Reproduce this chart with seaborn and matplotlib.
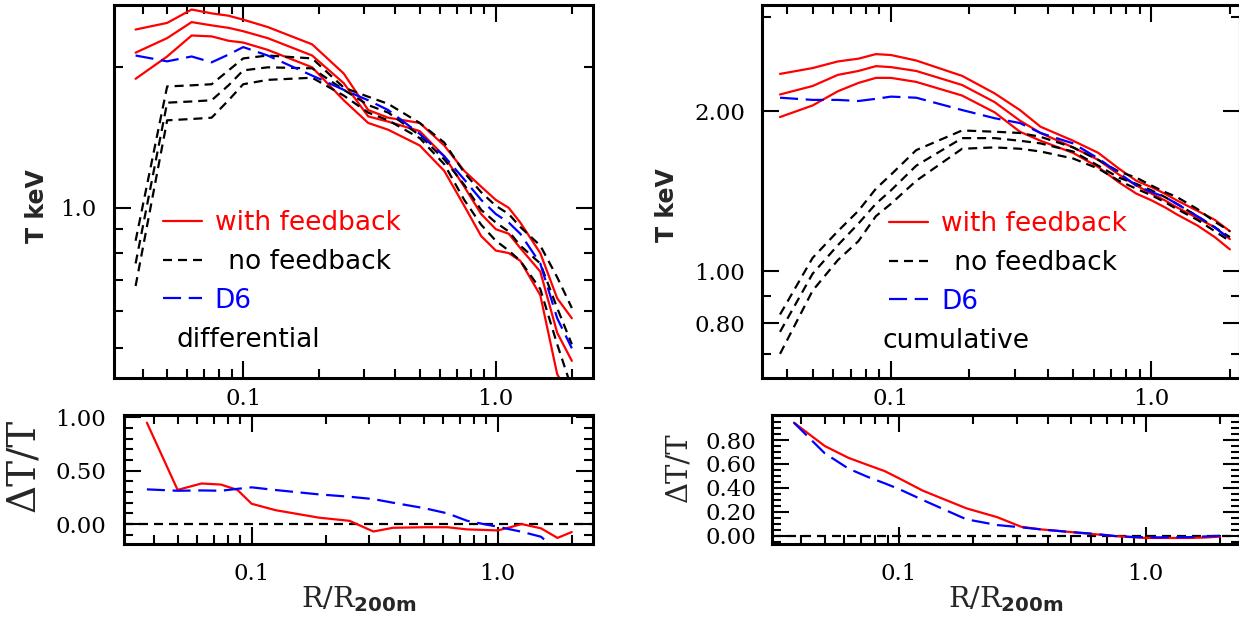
import matplotlib
matplotlib.use("Agg")
import numpy as np
import pandas as pd
import seaborn as sns
import matplotlib.pyplot as plt
from matplotlib.lines import Line2D

# ---------------- data ----------------
r_grid = [0.0375, 0.05, 0.0625, 0.075, 0.0875, 0.1, 0.125, 0.1875, 0.25, 0.3125,
          0.375, 0.5, 0.625, 0.75, 0.875, 1.0, 1.125, 1.25, 1.5, 1.75, 2.0]

# differential temperature profiles (keV)
diff_fb_hi = [2.41, 2.49, 2.66, 2.61, 2.58, 2.53, 2.44, 2.24, 1.94, 1.62, 1.56, 1.52, 1.36, 1.20, 1.11, 1.04, 1.00, 0.93, 0.80, 0.64, 0.58]
diff_fb_mid = [2.15, 2.31, 2.50, 2.46, 2.43, 2.39, 2.31, 2.12, 1.85, 1.57, 1.53, 1.46, 1.29, 1.11, 0.97, 0.90, 0.88, 0.82, 0.73, 0.54, 0.47]
diff_fb_lo = [1.89, 2.11, 2.34, 2.33, 2.28, 2.26, 2.18, 2.00, 1.70, 1.52, 1.47, 1.36, 1.20, 1.01, 0.87, 0.81, 0.80, 0.77, 0.65, 0.44, 0.39]
diff_d6 = [2.12, 2.06, 2.11, 2.05, 2.13, 2.21, 2.12, 1.92, 1.79, 1.70, 1.62, 1.44, 1.29, 1.15, 1.04, 0.97, 0.93, 0.88, 0.76, 0.58, 0.50]
diff_nofb_hi = [0.85, 1.82, 1.83, 1.84, 1.97, 2.09, 2.12, 2.09, 1.81, 1.73, 1.67, 1.52, 1.38, 1.19, 1.08, 1.01, 0.97, 0.91, 0.83, 0.71, 0.61]
diff_nofb_mid = [0.76, 1.68, 1.69, 1.70, 1.83, 1.97, 2.00, 1.99, 1.79, 1.66, 1.60, 1.43, 1.27, 1.12, 0.99, 0.93, 0.89, 0.83, 0.76, 0.61, 0.51]
diff_nofb_lo = [0.68, 1.54, 1.55, 1.56, 1.70, 1.84, 1.88, 1.90, 1.74, 1.60, 1.54, 1.41, 1.24, 1.04, 0.92, 0.85, 0.81, 0.77, 0.67, 0.51, 0.41]

# cumulative temperature profiles (keV)
cum_fb_hi = [2.35, 2.41, 2.48, 2.51, 2.56, 2.55, 2.49, 2.33, 2.16, 2.01, 1.87, 1.76, 1.67, 1.56, 1.48, 1.44, 1.40, 1.36, 1.30, 1.25, 1.19]
cum_fb_mid = [2.15, 2.23, 2.34, 2.38, 2.43, 2.42, 2.38, 2.24, 2.08, 1.92, 1.82, 1.71, 1.62, 1.52, 1.45, 1.40, 1.36, 1.32, 1.26, 1.21, 1.15]
cum_fb_lo = [1.95, 2.05, 2.18, 2.26, 2.31, 2.31, 2.27, 2.14, 1.99, 1.83, 1.76, 1.67, 1.57, 1.47, 1.40, 1.36, 1.32, 1.28, 1.22, 1.16, 1.10]
cum_d6 = [2.12, 2.10, 2.10, 2.09, 2.11, 2.13, 2.12, 2.01, 1.94, 1.90, 1.82, 1.74, 1.63, 1.53, 1.45, 1.41, 1.38, 1.34, 1.27, 1.21, 1.15]
cum_nofb_hi = [0.83, 1.06, 1.19, 1.30, 1.43, 1.52, 1.69, 1.84, 1.83, 1.82, 1.79, 1.71, 1.62, 1.54, 1.50, 1.45, 1.41, 1.38, 1.31, 1.24, 1.19]
cum_nofb_mid = [0.77, 0.99, 1.12, 1.23, 1.34, 1.42, 1.58, 1.78, 1.78, 1.76, 1.74, 1.68, 1.58, 1.50, 1.46, 1.42, 1.38, 1.34, 1.27, 1.21, 1.16]
cum_nofb_lo = [0.70, 0.92, 1.05, 1.14, 1.27, 1.34, 1.48, 1.70, 1.71, 1.70, 1.68, 1.63, 1.56, 1.48, 1.43, 1.39, 1.35, 1.31, 1.25, 1.19, 1.14]

# relative differences dT/T
dT_diff_fb = [0.95, 0.32, 0.38, 0.37, 0.32, 0.19, 0.13, 0.06, 0.03, -0.07, -0.035, -0.03, -0.03, -0.05, -0.055, -0.06, -0.03, 0.0, -0.04, -0.13, -0.075]
dT_diff_d6 = [0.325, 0.312, 0.315, 0.312, 0.33, 0.344, 0.319, 0.278, 0.256, 0.234, 0.20, 0.15, 0.10, 0.031, 0.0, -0.025, -0.05, -0.072, -0.119, -0.25, -0.35]
dT_cum_fb = [0.945, 0.75, 0.65, 0.59, 0.54, 0.48, 0.376, 0.229, 0.155, 0.075, 0.053, 0.03, 0.012, -0.003, -0.012, -0.019, -0.019, -0.019, -0.019, -0.015, -0.008]
dT_cum_d6 = [0.945, 0.689, 0.56, 0.49, 0.438, 0.39, 0.298, 0.137, 0.089, 0.07, 0.053, 0.03, 0.015, -0.003, -0.01, -0.014, -0.014, -0.013, -0.012, -0.006, 0.0]

x_major = [0.1, 1.0]
x_major_labels = ["0.1", "1.0"]
x_minor = [0.04, 0.05, 0.06, 0.07, 0.08, 0.09, 0.2, 0.3, 0.4, 0.5, 0.6, 0.7, 0.8, 0.9, 2.0]

legend_labels = ["with feedback", "\u2002no feedback", "D6"]

# ---------------- style ----------------
sns.set_theme(style="ticks")
plt.rcParams["font.family"] = ["DejaVu Serif"]
plt.rcParams["mathtext.fontset"] = "dejavusans"
plt.rcParams["lines.scale_dashes"] = False

RED, BLACK, BLUE = "#ff0000", "#000000", "#0000ff"
LW = 1.6
DASH_BLACK = (0, (6.5, 4.3))
DASH_BLUE = (0, (13, 5.5))

W, H = 1239, 617
fig = plt.figure(figsize=(W / 100, H / 100), dpi=100)
fig.patch.set_facecolor("white")


def px_axes(l, r, t, b):
    return fig.add_axes([l / W, 1 - b / H, (r - l) / W, (b - t) / H])


ax_tl = px_axes(114, 593.3, 5, 377.5)
ax_bl = px_axes(124, 593.3, 415, 544)
ax_tr = px_axes(761.7, 1240, 5, 377.5)
ax_br = px_axes(771.7, 1240, 415, 544)


def curve(ax, y, color, ls):
    df = pd.DataFrame({"r": r_grid, "v": y})
    sns.lineplot(data=df, x="r", y="v", ax=ax, color=color, linestyle=ls,
                 linewidth=LW, estimator=None, sort=False, legend=False)


def style_axes(ax, xlim, ylim, xpad):
    ax.set_xscale("log")
    ax.set_xlim(*xlim)
    ax.set_ylim(*ylim)
    ax.set_xticks(x_major, x_major_labels)
    ax.set_xticks(x_minor, minor=True)
    ax.xaxis.set_minor_formatter(plt.NullFormatter())
    for s in ax.spines.values():
        s.set_linewidth(2.2)
        s.set_color("black")
    ax.tick_params(which="both", direction="in", top=True, right=True,
                   color="black", width=1.5, labelsize=16.5, labelcolor="black")
    ax.tick_params(which="major", length=12.5)
    ax.tick_params(which="minor", length=6.5)
    ax.tick_params(axis="x", which="major", pad=xpad)
    ax.set_xlabel("")
    ax.set_ylabel("")
    ax.set_facecolor("white")
    ax.grid(False)


# ---------- top-left: differential ----------
for y in (diff_fb_hi, diff_fb_mid, diff_fb_lo):
    curve(ax_tl, y, RED, "-")
for y in (diff_nofb_hi, diff_nofb_mid, diff_nofb_lo):
    curve(ax_tl, y, BLACK, DASH_BLACK)
curve(ax_tl, diff_d6, BLUE, DASH_BLUE)
ax_tl.set_yscale("log")
style_axes(ax_tl, (0.0308, 2.432), (0.433, 2.72), 7.5)
ax_tl.set_yticks([1.0], ["1.0"])
ax_tl.set_yticks([0.5, 0.6, 0.7, 0.8, 0.9, 2.0], minor=True)
ax_tl.yaxis.set_minor_formatter(plt.NullFormatter())
ax_tl.tick_params(axis="y", which="major", pad=13)

# ---------- top-right: cumulative ----------
for y in (cum_fb_hi, cum_fb_mid, cum_fb_lo):
    curve(ax_tr, y, RED, "-")
for y in (cum_nofb_hi, cum_nofb_mid, cum_nofb_lo):
    curve(ax_tr, y, BLACK, DASH_BLACK)
curve(ax_tr, cum_d6, BLUE, DASH_BLUE)
ax_tr.set_yscale("log")
style_axes(ax_tr, (0.03189, 2.187), (0.632, 3.166), 7.5)
ax_tr.set_yticks([0.8, 1.0, 2.0], ["0.80", "1.00", "2.00"])
ax_tr.set_yticks([0.7, 0.9, 3.0], minor=True)
ax_tr.yaxis.set_minor_formatter(plt.NullFormatter())
ax_tr.tick_params(axis="y", which="major", pad=12)

# ---------- bottom-left ----------
ax_bl.axhline(0.0, color=BLACK, linestyle=DASH_BLACK, linewidth=LW)
curve(ax_bl, dT_diff_fb, RED, "-")
curve(ax_bl, dT_diff_d6, BLUE, DASH_BLUE)
style_axes(ax_bl, (0.03027, 2.447), (-0.187, 1.022), 14)
ax_bl.set_yticks([0.0, 0.5, 1.0], ["0.00", "0.50", "1.00"])
ax_bl.set_yticks(np.round(np.arange(-0.1, 1.01, 0.1), 2), minor=True)
ax_bl.tick_params(axis="y", which="major", pad=13)

# ---------- bottom-right ----------
ax_br.axhline(0.0, color=BLACK, linestyle=DASH_BLACK, linewidth=LW)
curve(ax_br, dT_cum_fb, RED, "-")
curve(ax_br, dT_cum_d6, BLUE, DASH_BLUE)
style_axes(ax_br, (0.03048, 2.411), (-0.0694, 1.009), 14)
ax_br.set_yticks([0.0, 0.2, 0.4, 0.6, 0.8], ["0.00", "0.20", "0.40", "0.60", "0.80"])
ax_br.set_yticks(np.round(np.arange(-0.05, 1.01, 0.05), 2), minor=True)
ax_br.tick_params(axis="y", which="major", pad=11)

# ---------- legends & annotations ----------
handles = [Line2D([], [], color=RED, lw=LW),
           Line2D([], [], color=BLACK, lw=LW, linestyle=DASH_BLACK),
           Line2D([], [], color=BLUE, lw=LW, linestyle=DASH_BLUE)]
leg_font = {"family": "DejaVu Sans", "size": 19}
for ax, anchor in ((ax_tl, (0.1014, 0.449)), (ax_tr, (0.2661, 0.446))):
    ax.legend(handles, legend_labels, loc="upper left", bbox_to_anchor=anchor,
              frameon=False, borderpad=0, borderaxespad=0, handlelength=1.48,
              handletextpad=0.49, labelspacing=0.48, prop=leg_font,
              labelcolor=[RED, BLACK, BLUE])


def ftext(x, y, s, **kw):
    fig.text(x / W, 1 - y / H, s, **kw)


ftext(176, 340, "differential", ha="left", va="center", family="DejaVu Sans", fontsize=19, color="black")
ftext(883, 341, "cumulative", ha="left", va="center", family="DejaVu Sans", fontsize=19, color="black")

ftext(37.5, 206, "T keV", rotation=90, ha="center", va="center", family="DejaVu Sans",
      fontweight="bold", fontsize=17)
ftext(667, 205, "T keV", rotation=90, ha="center", va="center", family="DejaVu Sans",
      fontweight="bold", fontsize=17)
ftext(24, 465, "\u0394T/T", rotation=90, ha="center", va="center", family="DejaVu Serif", fontsize=28)
ftext(678.5, 467, "\u0394T/T", rotation=90, ha="center", va="center", family="DejaVu Serif", fontsize=21)
ftext(358.5, 599, "R/R$_{\\mathbf{200m}}$", ha="center", va="center", family="DejaVu Serif", fontsize=20.5)
ftext(1006, 599, "R/R$_{\\mathbf{200m}}$", ha="center", va="center", family="DejaVu Serif", fontsize=20.5)

fig.savefig("out.png", dpi=100, facecolor="white")
